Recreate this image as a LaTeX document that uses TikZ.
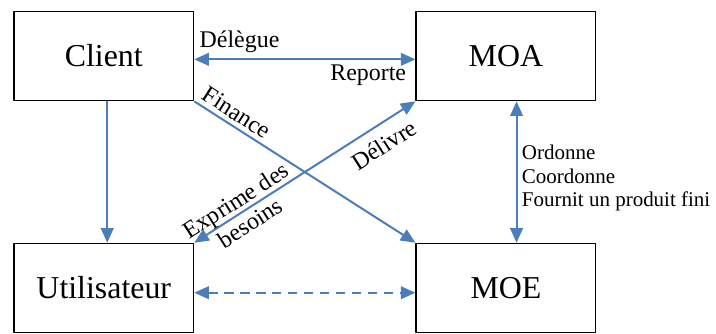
\documentclass[tikz,border=0pt]{standalone}
\usepackage{fontspec}
\setmainfont{Liberation Serif}
\usetikzlibrary{arrows.meta}
\definecolor{lienbleu}{RGB}{74,126,187}

\begin{document}
\begin{tikzpicture}[line join=round, >={Triangle[length=11pt,width=9.5pt]},
	box/.style={draw=black, line width=1.1pt, minimum width=4.75cm, minimum height=2.36cm, font=\fontsize{24}{29}\selectfont},
	link/.style={draw=lienbleu, line width=1.5pt},
	lab/.style={font=\fontsize{18}{20}\selectfont},
	role/.style={font=\fontsize{15.8}{18}\selectfont}]
	\useasboundingbox (-2.746,1.482) rectangle (16.198,-7.355);
	\path 
	(0,0) node[box] (cli) {Client}
	(10.64,0) node[box] (moa) {MOA}
	(0,-6.14) node[box] (uti) {Utilisateur}
	(10.64,-6.14) node[box] (moe) {MOE};
	\draw[link, <->] ([yshift=-2.5pt]cli.east) -- node[lab, pos=0, above right, yshift=1pt] {Délègue} node[lab, pos=1, below left, xshift=-3pt] {Reporte} ([yshift=-2.5pt]moa.west);
	\draw[link, ->] ([xshift=2.6pt]cli.south) -- ([xshift=2.6pt]uti.north);
	\draw[link, ->] (cli.south east) -- node[lab, pos=0.16, sloped, above] {Finance} (moe.north west);
	\draw[link, <->] (uti.north east) -- node[lab, pos=0.22, sloped, align=center] {Exprime des\\besoins} node[lab, pos=0.81, sloped, below=4.5pt] {Délivre} (moa.south west);
	\draw[link, <->] ([xshift=8pt]moa.south) -- node[role, right, align=left, yshift=-4.5pt] {Ordonne\\Coordonne\\Fournit un produit fini} ([xshift=8pt]moe.north);
	\draw[link, <->, dash pattern=on 7pt off 5pt] ([yshift=-3.5pt]uti.east) -- ([yshift=-3.5pt]moe.west);
\end{tikzpicture}
\end{document}
